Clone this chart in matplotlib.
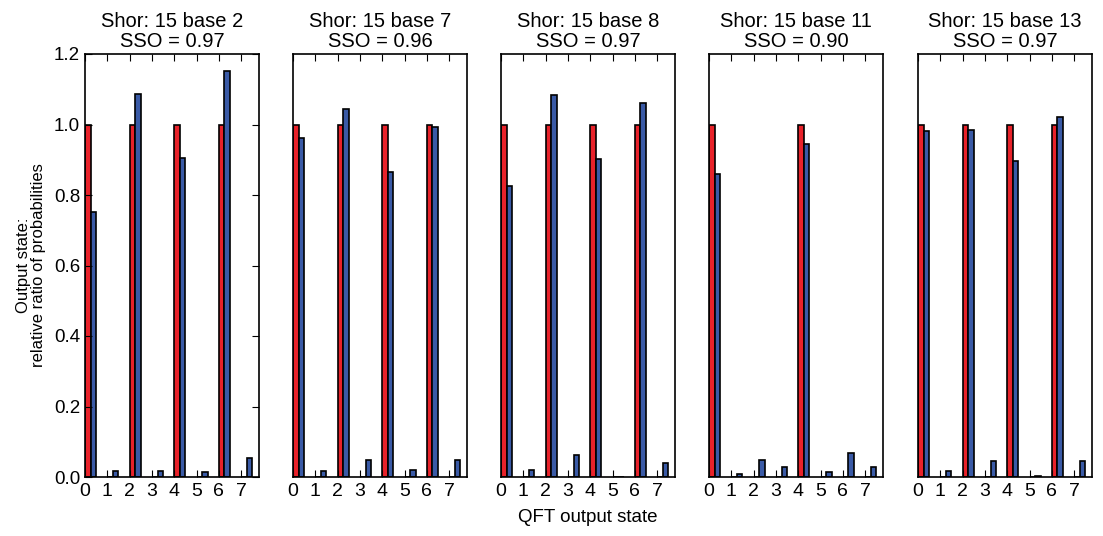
import numpy as np
import matplotlib
matplotlib.use("Agg")
import matplotlib.pyplot as plt

plt.rcParams['font.family'] = ['Liberation Sans', 'DejaVu Sans']

states = np.arange(8)
bases = [2, 7, 8, 11, 13]
sso = ["0.97", "0.96", "0.97", "0.90", "0.97"]

# ideal (red) and measured (blue) relative ratios
ideal = [
    [1, 0, 1, 0, 1, 0, 1, 0],
    [1, 0, 1, 0, 1, 0, 1, 0],
    [1, 0, 1, 0, 1, 0, 1, 0],
    [1, 0, 0, 0, 1, 0, 0, 0],
    [1, 0, 1, 0, 1, 0, 1, 0],
]
measured = [
    [0.751, 0.018, 1.087, 0.018, 0.906, 0.013, 1.151, 0.053],
    [0.961, 0.018, 1.044, 0.047, 0.866, 0.020, 0.992, 0.047],
    [0.826, 0.020, 1.084, 0.061, 0.902, 0.000, 1.061, 0.039],
    [0.859, 0.008, 0.047, 0.027, 0.944, 0.013, 0.067, 0.027],
    [0.982, 0.018, 0.985, 0.044, 0.896, 0.003, 1.022, 0.044],
]

red = '#e8222a'
blue = '#3a5aa6'
w = 0.25

fig = plt.figure(figsize=(11.03, 5.36), dpi=100)
lefts = [85, 293, 501, 709, 918]

for k in range(5):
    ax = fig.add_axes([lefts[k] / 1103, 59 / 536, 174 / 1103, 423 / 536])
    ax.bar(states, ideal[k], width=w, align='edge', color=red,
           edgecolor='black', linewidth=1.2)
    ax.bar(states + w, measured[k], width=w, align='edge', color=blue,
           edgecolor='black', linewidth=1.2)
    ax.set_xlim(0, 7.8)
    ax.set_ylim(0, 1.2)
    ax.set_xticks(states)
    ax.tick_params(axis='x', direction='in', top=True, length=5, labelsize=14, pad=4)
    ax.set_title("Shor: 15 base %d\nSSO = %s" % (bases[k], sso[k]), fontsize=14.5,
                 linespacing=1.05, pad=5)
    for s in ax.spines.values():
        s.set_linewidth(1.2)
    if k == 0:
        ax.set_yticks(np.arange(0, 1.21, 0.2))
        ax.set_yticklabels(["%.1f" % v for v in np.arange(0, 1.21, 0.2)])
        ax.tick_params(axis='y', direction='in', right=True, length=5, labelsize=13.5)
        ax.set_ylabel("Output state:\nrelative ratio of probabilities", fontsize=12,
                      linespacing=1.0, labelpad=6)
    else:
        ax.set_yticks([])
    if k == 2:
        ax.set_xlabel("QFT output state", fontsize=13.5, labelpad=7)

fig.savefig("out.png", dpi=100, facecolor='white')
